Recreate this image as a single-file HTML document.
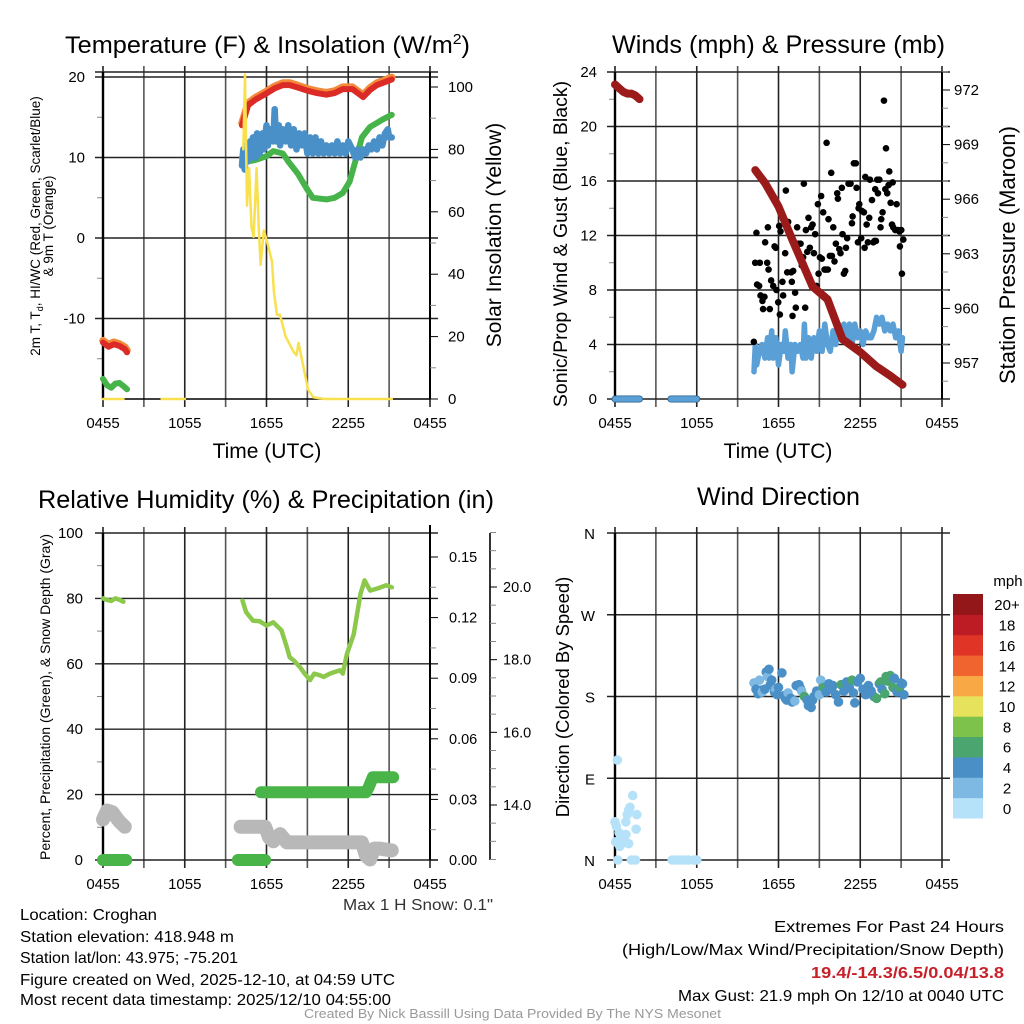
<!DOCTYPE html>
<html><head><meta charset="utf-8"><style>
html,body{margin:0;padding:0;background:#fff;}
svg{display:block;font-family:"Liberation Sans",Arial,sans-serif;}
</style></head><body>
<svg id="fig" width="1024" height="1024" viewBox="0 0 1024 1024" xmlns="http://www.w3.org/2000/svg">
<g id="tl"></g>
<g id="tr"></g>
<g id="bl"></g>
<g id="br"></g>
<g id="txt" font-size="16" fill="#000">
<text x="65" y="53" font-size="24" textLength="405" lengthAdjust="spacingAndGlyphs">Temperature (F) &amp; Insolation (W/m<tspan dy="-9" font-size="15">2</tspan><tspan dy="9">)</tspan></text>
<text x="612" y="53" font-size="25" textLength="333" lengthAdjust="spacingAndGlyphs">Winds (mph) &amp; Pressure (mb)</text>
<text x="38" y="508" font-size="25" textLength="456" lengthAdjust="spacingAndGlyphs">Relative Humidity (%) &amp; Precipitation (in)</text>
<text x="697" y="505" font-size="25" textLength="163" lengthAdjust="spacingAndGlyphs">Wind Direction</text>
<text x="343" y="910" fill="#333" textLength="150" lengthAdjust="spacingAndGlyphs">Max 1 H Snow: 0.1"</text>
<text x="20" y="920" textLength="137" lengthAdjust="spacingAndGlyphs">Location: Croghan</text>
<text x="20" y="942" textLength="214" lengthAdjust="spacingAndGlyphs">Station elevation: 418.948 m</text>
<text x="20" y="963" textLength="218" lengthAdjust="spacingAndGlyphs">Station lat/lon: 43.975; -75.201</text>
<text x="20" y="985" textLength="375" lengthAdjust="spacingAndGlyphs">Figure created on Wed, 2025-12-10, at 04:59 UTC</text>
<text x="20" y="1005" textLength="371" lengthAdjust="spacingAndGlyphs">Most recent data timestamp: 2025/12/10 04:55:00</text>
<text x="774" y="932" textLength="230" lengthAdjust="spacingAndGlyphs">Extremes For Past 24 Hours</text>
<text x="622" y="955" textLength="382" lengthAdjust="spacingAndGlyphs">(High/Low/Max Wind/Precipitation/Snow Depth)</text>
<text x="811" y="978" fill="#c8202a" font-weight="bold" textLength="193" lengthAdjust="spacingAndGlyphs">19.4/-14.3/6.5/0.04/13.8</text>
<text x="678" y="1001" textLength="326" lengthAdjust="spacingAndGlyphs">Max Gust: 21.9 mph On 12/10 at 0040 UTC</text>
<text x="304" y="1018" font-size="12.5" fill="#999" textLength="417" lengthAdjust="spacingAndGlyphs">Created By Nick Bassill Using Data Provided By The NYS Mesonet</text>
</g>
</svg>
<script>
// ---- data (hours since 0455 UTC) ----
var xTickLabels = ["0455","1055","1655","2255","0455"];
var tempRedH = [0,0.4,0.8,1.2,1.6,1.76, null, 10.2,10.64,11.2,12.04,12.6,13.2,13.7,14.3,15.0,15.7,16.4,17.0,17.6,18.3,18.7,19.1,19.6,20.1,20.6,21.2];
var tempRedV = [-13,-13.5,-13.2,-13.4,-13.8,-14.2, null, 14,16.5,17.2,18,18.6,19,19,18.7,18.3,18.0,17.8,18.0,18.5,18.5,18.0,17.5,18.4,19,19.3,19.7];
var dewH = [0,0.3,0.6,0.9,1.2,1.5,1.76, null, 10.2,10.64,11.2,12.04,12.5,13.2,13.6,14.3,15.0,15.4,16.4,17.0,17.6,18.1,18.6,19.0,19.6,20.1,20.6,21.2];
var dewV = [-17.5,-18.3,-18.6,-18.1,-18.0,-18.4,-18.8, null, 10,9.5,9.7,10.2,10.8,10.5,9.5,8.0,6.0,5.0,4.8,5.0,5.6,7.0,10.0,12.5,13.8,14.3,14.8,15.3];
var chillH = [10.2,10.3,10.4,10.5,10.6,10.8,10.9,11.0,11.2,11.3,11.5,11.7,11.8,12.0,12.1,12.3,12.5,12.6,12.7,12.9,13.0,13.2,13.4,13.6,13.8,14.0,14.2,14.4,14.6,14.8,15.0,15.2,15.4,15.6,15.8,16.0,16.2,16.4,16.6,16.8,17.0,17.2,17.4,17.6,17.8,18.0,18.3,18.5,18.7,18.9,19.1,19.3,19.5,19.7,19.9,20.1,20.3,20.5,20.7,20.9,21.0,21.2];
var chillV = [9,11,8.5,11.5,9.5,12,10,12.5,10,13,10.5,13,11,14,11.5,13.5,12,16,12,14,11.5,13.5,12,14,11.5,13.5,11,13,11.5,13,10.5,12.5,10.5,12.5,10.5,12,10.5,11.5,10.5,11.5,10.5,12,10.5,11.5,10.5,12,11,10,11,10,11,10.5,11.5,11,12,11,12.5,11.5,13,13.5,12.5,12.5];
var solarH = [0,1.5,null,4.3,6.0,null,10.3,10.42,10.57,10.72,10.9,11.05,11.27,11.42,11.57,11.8,12.0,12.18,12.4,12.55,12.77,12.99,13.4,14.0,14.2,14.35,14.72,15.05,15.44,16.3,21.2];
var solarV = [0,0,null,0,0,null,80,104,62,74,55,52,74,56,43,54,51,48,44,34,27,27,20,15,14,18,10,3,0.5,0,0];
var pressH = [0,0.3,0.6,0.9,1.2,1.5,1.8,null,10.3,11.0,12.0,13.0,14.5,15.6,16.7,18.0,19.2,20.2,21.1];
var pressV = [972.3,972.1,971.9,971.8,971.8,971.7,971.5,null,967.6,966.9,965.6,963.8,961.2,960.5,958.3,957.6,956.8,956.3,955.8];
var windH = [0,1.8,null,4.1,6.0,null,10.2,10.3,10.4,10.6,10.8,11.0,11.2,11.3,11.5,11.6,11.8,12.0,12.2,12.4,12.5,12.7,12.9,13.0,13.2,13.4,13.6,13.8,13.9,14.0,14.2,14.4,14.6,14.8,15.0,15.2,15.4,15.6,15.8,16.0,16.2,16.4,16.6,16.8,17.0,17.2,17.4,17.6,17.8,18.0,18.2,18.4,18.6,18.8,19.0,19.2,19.4,19.6,19.8,20.0,20.2,20.4,20.6,20.8,21.0,21.1];
var windV = [0,0,null,0,0,null,2,4,2.5,3.5,4,3,4.5,3,5,3,4.5,2.5,4,3.5,5,3,4,2,4,3.5,4,3,5.5,3,4.5,3,4.5,3.5,5,3.5,5.5,4,3.5,5,4,5.5,4.5,5.5,4.5,5.5,4,5.5,4.5,5,4,5,4.5,4.5,5,6,5.5,6,5,5.5,5,5.5,4.5,5,3.5,4.5];
var gustH = [10.19,10.38,10.29,10.63,10.43,10.58,10.68,10.82,10.87,10.97,11.02,11.17,11.22,11.27,11.36,11.46,11.61,11.71,11.80,11.85,11.98,12.10,12.05,12.15,12.29,12.34,12.49,12.54,12.64,12.71,12.93,12.98,13.03,13.08,13.22,13.27,13.37,13.47,13.62,13.71,13.81,13.86,13.96,14.01,14.11,14.20,14.30,14.40,14.50,14.60,14.69,14.79,14.89,14.94,15.04,15.13,15.18,15.28,15.38,15.48,15.53,15.62,15.67,15.77,15.87,15.92,16.02,16.11,16.21,16.31,16.36,16.46,16.55,16.65,16.70,16.80,16.90,16.95,17.04,17.14,17.29,17.39,17.44,17.53,17.68,17.73,17.83,17.88,17.93,18.07,18.12,18.27,18.32,18.37,18.47,18.56,18.66,18.71,18.86,18.96,19.05,19.10,19.15,19.25,19.30,19.40,19.49,19.54,19.64,19.74,19.84,19.89,19.98,20.08,20.13,20.23,20.33,20.38,20.42,20.57,20.67,20.77,20.87,20.91,21.01,21.06,21.16];
var gustV = [4.2,12.2,10.0,10.0,8.4,8.3,7.6,7.2,6.6,7.5,11.5,10.0,12.6,9.5,6.6,8.7,8.3,11.2,11.1,8.0,7.1,6.2,12.7,12.3,8.6,7.6,10.7,15.3,9.3,13.0,9.3,8.6,6.1,9.4,7.8,6.7,12.6,11.4,11.4,9.8,10.4,15.8,6.7,12.4,10.8,13.3,11.1,12.6,12.8,10.7,12.1,8.3,14.3,9.2,10.4,14.9,10.3,13.7,9.5,9.5,18.8,9.5,13.2,10.5,16.6,10.5,12.6,10.1,11.4,15.1,14.7,11.0,10.7,15.5,12.1,9.2,9.4,11.1,11.8,15.8,15.8,12.9,13.4,17.3,17.3,15.5,11.5,14.0,14.3,11.8,13.8,13.7,11.1,16.3,12.8,11.5,13.3,16.1,14.6,11.5,11.6,15.4,11.6,16.1,15.1,16.1,12.6,13.2,13.7,21.9,15.4,18.4,15.1,15.7,16.7,14.4,12.8,15.9,12.6,12.4,14.3,12.4,12.3,11.2,12.4,9.2,11.7];
var rhH = [0,0.3,0.6,0.9,1.2,1.5,null,10.24,10.5,11.0,11.5,12.0,12.5,13.1,13.5,13.7,14.0,14.45,14.8,15.2,15.5,15.9,16.2,16.65,17.0,17.4,17.6,17.9,18.4,18.9,19.2,19.6,20.1,20.8,21.2];
var rhV = [80,79.5,79.2,80,79.6,79,null,79.3,75.8,73.2,73,71.7,72.7,70.2,65,62,61,59,57,55,57,56.5,56,57,57.5,58,57,63,69,81.4,85.5,82.4,83,84,83.4];
var precipH = [0,1.7,null,9.9,11.9,null,11.6,19.3,19.5,19.8,21.3];
var precipV = [0,0,null,0,0,null,0.0335,0.0335,0.036,0.041,0.041];
var snowH = [0,0.3,0.7,1.2,1.6,null,10.1,11.0,11.9,12.2,12.5,13.0,13.5,19.0,19.3,19.6,19.9,20.3,21.2];
var snowV = [13.6,13.85,13.8,13.55,13.4,null,13.4,13.4,13.4,13.1,13.0,13.2,12.97,12.97,12.6,12.5,12.8,12.8,12.75];
var dirH = [0.17,0,0.1,0.3,0.45,0.6,0.8,0.9,1.0,1.3,1.1,0.8,1.6,1.55,0.5,1.0,0.2,1.2,1.5,4.2,4.5,4.8,5.1,5.4,5.8,6.0,0.05,0.35,0.7,
10.2,10.35,10.5,10.6,10.7,10.8,11.0,11.1,11.2,11.3,11.4,11.5,11.7,11.8,11.9,12.0,12.25,12.4,12.5,12.6,12.7,12.9,13.0,13.2,13.3,13.5,13.6,13.7,13.9,14.1,14.2,14.4,14.5,14.6,14.8,15.0,15.1,15.3,15.5,15.7,15.9,16.0,16.2,16.4,16.6,16.8,17.0,17.2,17.4,17.5,17.6,17.8,18.0,18.2,18.4,18.6,18.8,19.0,19.2,19.4,19.5,19.6,19.8,19.9,20.0,20.2,20.4,20.5,20.7,20.9,21.0,21.1,21.2];
var dirV = [110,42,37,30,22,25,28,50,55,71,58,42,50,34,18,18,0,0,0,0,0,0,0,0,0,0,20,15,20,
195,188,183,198,187,185,188,207,202,210,193,198,185,188,182,190,206,181,178,176,184,178,174,175,192,193,189,186,180,176,170,168,176,180,186,182,198,190,185,194,188,192,182,174,193,186,196,190,198,184,173,196,200,188,182,192,186,180,178,194,196,188,183,202,197,203,190,200,185,190,195,194,182];
var dirSpd = [1,1,1,1,1,1,1,1,1,1,1,1,1,1,1,1,1,1,1,1,1,1,1,1,1,1,1,1,1,
3,4,4,3,4,3,4,4,3,4,4,4,4,3,4,4,4,4,4,4,3,4,4,3,4,4,4,3,6,4,4,4,4,4,4,3,3,6,4,4,4,4,4,4,6,4,4,4,6,4,4,4,4,4,4,4,4,4,6,4,6,4,6,6,6,6,6,4,4,6,4,4,4];
var speedColors = ["#b5e2f8","#7db9e2","#4a8fc6","#4aa56e","#7cc24b","#e7e25c","#f8a946","#f0652f","#e03427","#bd1c25","#931619"];
var speedLabels = ["0","2","4","6","8","10","12","14","16","18","20+"];

var NS="http://www.w3.org/2000/svg";
function mk(parent,tag,attrs){var e=document.createElementNS(NS,tag);for(var k in attrs)e.setAttribute(k,attrs[k]);parent.appendChild(e);return e;}
function txt(parent,x,y,s,attrs){var e=mk(parent,'text',Object.assign({x:x,y:y},attrs||{}));e.textContent=s;return e;}
function lin(a,b,c,d){return function(v){return c+(v-a)*(d-c)/(b-a);};}
function pathD(H,V,sx,sy){var d='',pen=false;for(var i=0;i<H.length;i++){if(H[i]===null||V[i]===null){pen=false;continue;}d+=(pen?'L':'M')+sx(H[i]).toFixed(1)+' '+sy(V[i]).toFixed(1);pen=true;}return d;}

function frame(g,L,R,T,B){
  var sx=lin(0,24,L,R);
  for(var h=0;h<=24;h+=3){
    var gl=mk(g,'line',{x1:sx(h),x2:sx(h),y1:T-6,y2:B+8,stroke:(h%6==0?'#222':'#555'),'stroke-width':1.6});
    
    
  }
  for(var i=0;i<xTickLabels.length;i++){
    var t=txt(g,sx(i*6),B+29,xTickLabels[i],{'font-size':15,'text-anchor':'middle'});
    
    
  }
  return sx;
}
function hgrid(g,L,R,y,w){var e=mk(g,'line',{x1:L-8,x2:R+8,y1:y,y2:y,stroke:'#222','stroke-width':w||1.4});
  
  }
function minor(g,x,y,dir){mk(g,'line',{x1:x,x2:x+dir*6,y1:y,y2:y,stroke:'#888','stroke-width':1});}
function series(g,name,H,V,sx,sy,color,w){
  var p=mk(g,'path',{d:pathD(H,V,sx,sy),fill:'none',stroke:color,'stroke-width':w,'stroke-linecap':'round','stroke-linejoin':'round'});
  
  
  return p;
}

// ===== Top-left =====
(function(){
  var g=document.getElementById('tl'),L=103,R=430,T=72,B=399;
  var sx=frame(g,L,R,T,B);
  var sy=lin(-20,20,B,77), sr=lin(0,100,B,87);
  [20,10,0,-10].forEach(function(v){hgrid(g,L,R,sy(v));
    var t=txt(g,L-18,sy(v)+5,String(v),{'font-size':15,'text-anchor':'end'});
    
    });
  [-15,-5,5,15].forEach(function(v){minor(g,L,sy(v),-1);});
  hgrid(g,L,R,T);
  mk(g,'line',{x1:L,x2:R,y1:B,y2:B,stroke:'#000','stroke-width':1.6});
  mk(g,'line',{x1:L,x2:L,y1:T,y2:B,stroke:'#000','stroke-width':2.4});
  mk(g,'line',{x1:R,x2:R,y1:T,y2:B,stroke:'#000','stroke-width':2});
  for(var v=0;v<=100;v+=20){mk(g,'line',{x1:R,x2:R+8,y1:sr(v),y2:sr(v),stroke:'#000'});
    var t=txt(g,R+18,sr(v)+5,String(v),{'font-size':15});
    
    }
  for(var v=10;v<=100;v+=20)minor(g,R,sr(v),1);
  series(g,'dewpoint-line',dewH,dewV,sx,sy,'#46b44a',6);
  series(g,'windchill-line',chillH,chillV,sx,sy,'#4a90c8',6.5);
  series(g,'temp-9m-line',tempRedH,tempRedV.map(function(v){return v===null?null:v+0.25;}),sx,sy,'#f3893a',7.5);
  series(g,'temp-2m-line',tempRedH,tempRedV,sx,sy,'#dc2a26',6);
  series(g,'insolation-line',solarH,solarV,sx,sr,'#f8e04e',2.5);
  var a=txt(g,0,0,'',{'font-size':13.5,'text-anchor':'middle',transform:'translate(40,226) rotate(-90)'});
  a.innerHTML='2m T, T<tspan font-size="9" dy="3">d</tspan><tspan dy="-3">, HI/WC (Red, Green, Scarlet/Blue)</tspan>';
  
  
  var a2=txt(g,0,0,'& 9m T (Orange)',{'font-size':13.5,'text-anchor':'middle',transform:'translate(53,226) rotate(-90)'});
  
  
  var r=txt(g,0,0,'Solar Insolation (Yellow)',{'font-size':21,'text-anchor':'middle',transform:'translate(501,235) rotate(-90)'});
  
  
  var x=txt(g,267,458,'Time (UTC)',{'font-size':21,'text-anchor':'middle'});
  
  
})();

// ===== Top-right =====
(function(){
  var g=document.getElementById('tr'),L=615,R=942,T=72,B=399;
  var sx=frame(g,L,R,T,B);
  var sy=lin(0,24,B,72), sp=lin(957,972,363,90);
  for(var v=0;v<=24;v+=4){hgrid(g,L,R,sy(v));
    var t=txt(g,L-18,sy(v)+5,String(v),{'font-size':15,'text-anchor':'end'});
    
    }
  for(var v=2;v<24;v+=4)minor(g,L,sy(v),-1);
  mk(g,'line',{x1:L,x2:L,y1:T,y2:B,stroke:'#000','stroke-width':2.4});
  mk(g,'line',{x1:R,x2:R,y1:T,y2:B,stroke:'#000','stroke-width':2});
  for(var v=957;v<=972;v+=3){mk(g,'line',{x1:R,x2:R+8,y1:sp(v),y2:sp(v),stroke:'#000'});
    var t=txt(g,R+12,sp(v)+5,String(v),{'font-size':15});
    
    }
  for(var v=956;v<=973;v+=1){if((v-957)%3)minor(g,R,sp(v),1);}
  series(g,'wind-zero-outline',windH.slice(0,5),windV.slice(0,5),sx,sy,'#2a5f8a',7);
  series(g,'wind-speed-line',windH,windV,sx,sy,'#5a9fd6',5.5);
  for(var i=0;i<gustH.length;i++){
    var c=mk(g,'circle',{cx:sx(gustH[i]),cy:sy(gustV[i]),r:3.3,fill:'#000'});
    
    
  }
  series(g,'pressure-line',pressH,pressV,sx,sp,'#9b1a1a',8);
  var a=txt(g,0,0,'Sonic/Prop Wind & Gust (Blue, Black)',{'font-size':19.5,'text-anchor':'middle',transform:'translate(567,244) rotate(-90)'});
  
  
  var r=txt(g,0,0,'Station Pressure (Maroon)',{'font-size':22,'text-anchor':'middle',transform:'translate(1015,255) rotate(-90)'});
  
  
  var x=txt(g,778,458,'Time (UTC)',{'font-size':21,'text-anchor':'middle'});
  
  
})();

// ===== Bottom-left =====
(function(){
  var g=document.getElementById('bl'),L=103,R=430,T=533,B=860;
  var sx=frame(g,L,R,T,B);
  var sy=lin(0,100,B,T), sp=lin(0,0.15,B,557), ss=lin(14,20,805,587);
  for(var v=0;v<=100;v+=20){hgrid(g,L,R,sy(v));
    var t=txt(g,L-20,sy(v)+5,String(v),{'font-size':15,'text-anchor':'end'});
    
    }
  for(var v=10;v<100;v+=20)minor(g,L,sy(v),-1);
  mk(g,'line',{x1:L,x2:L,y1:T,y2:B,stroke:'#000','stroke-width':2.4});
  mk(g,'line',{x1:R,x2:R,y1:T-8,y2:B,stroke:'#000','stroke-width':2});
  ['0.00','0.03','0.06','0.09','0.12','0.15'].forEach(function(s){var v=parseFloat(s);
    mk(g,'line',{x1:R,x2:R+8,y1:sp(v),y2:sp(v),stroke:'#000'});
    var t=txt(g,R+19,sp(v)+5,s,{'font-size':14.5});
    
    });
  for(var v=0.015;v<0.16;v+=0.03)minor(g,R,sp(v),1);
  mk(g,'line',{x1:490,x2:490,y1:T,y2:B,stroke:'#000','stroke-width':1.6});
  ['14.0','16.0','18.0','20.0'].forEach(function(s){var v=parseFloat(s);
    mk(g,'line',{x1:490,x2:497,y1:ss(v),y2:ss(v),stroke:'#000'});
    var t=txt(g,503,ss(v)+5,s,{'font-size':14.5});
    
    });
  for(var v=12.5;v<=21.5;v+=0.5){if(v%2)minor(g,490,ss(v),1);}
  series(g,'snow-depth-line',snowH,snowV,sx,ss,'#b8b8b8',14);
  series(g,'precip-line',precipH,precipV,sx,sp,'#49b548',12);
  series(g,'rh-line',rhH,rhV,sx,sy,'#8cc84b',4.5);
  var a=txt(g,0,0,'Percent, Precipitation (Green), & Snow Depth (Gray)',{'font-size':14,'text-anchor':'middle',transform:'translate(50,697) rotate(-90)'});
  
  
})();

// ===== Bottom-right =====
(function(){
  var g=document.getElementById('br'),L=615,R=942,T=533,B=860;
  var sx=frame(g,L,R,T,B);
  var sy=lin(0,360,B,T);
  var labs=['N','E','S','W','N'];
  for(var i=0;i<5;i++){hgrid(g,L,R,sy(i*90));
    var t=txt(g,L-20,sy(i*90)+6,labs[i],{'font-size':15,'text-anchor':'end'});
    
    }
  mk(g,'line',{x1:L,x2:L,y1:T,y2:B,stroke:'#000','stroke-width':2.4});
  for(var i=0;i<dirH.length;i++){
    var ci=Math.min(10,Math.floor(dirSpd[i]/2));
    var c=mk(g,'circle',{cx:sx(dirH[i]),cy:sy(dirV[i]),r:4.8,fill:speedColors[ci]});
    
    
  }
  var bh=224/11;
  for(var k=0;k<11;k++){
    var y=818-(k+1)*bh;
    var r=mk(g,'rect',{x:953,y:y,width:30,height:bh+0.5,fill:speedColors[k]});
    
    
    var t=txt(g,1007,y+bh/2+6,speedLabels[k],{'font-size':15,'text-anchor':'middle'});
    
    
  }
  var m=txt(g,1008,586,'mph',{'font-size':15,'text-anchor':'middle'});
  
  
  var a=txt(g,0,0,'Direction (Colored By Speed)',{'font-size':18.5,'text-anchor':'middle',transform:'translate(569,697) rotate(-90)'});
  
  
})();
</script>
</body></html>
